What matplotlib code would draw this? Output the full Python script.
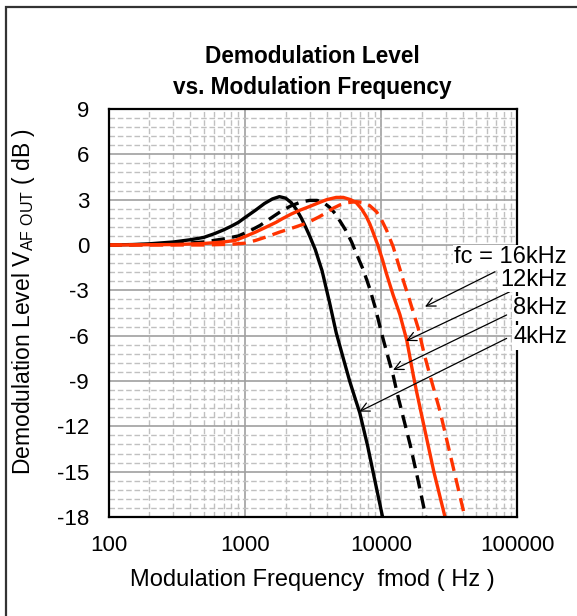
import numpy as np
import matplotlib.pyplot as plt
from matplotlib.patches import Rectangle
from matplotlib.ticker import FixedLocator, NullFormatter

plt.rcParams['font.family'] = ['Liberation Sans', 'DejaVu Sans']
plt.rcParams['axes.unicode_minus'] = False
plt.rcParams['mathtext.fontset'] = 'custom'
plt.rcParams['mathtext.rm'] = 'Liberation Sans'

# curves (Hz, dB)
f_4k = [100, 150, 200, 300, 400, 500, 600, 700, 800, 900, 1000, 1200, 1400, 1600, 1800, 2000, 2200, 2400,
        2600, 2800, 3000, 3300, 3700, 4200, 4700, 5300, 5900, 6500, 7000, 8000, 9000, 10300]
db_4k = [0, 0.03, 0.08, 0.2, 0.35, 0.5, 0.75, 1.0, 1.25, 1.5, 1.8, 2.3, 2.75, 3.05, 3.2, 3.1, 2.8, 2.35,
         1.8, 1.2, 0.6, -0.3, -1.7, -3.8, -5.8, -7.5, -9.0, -10.2, -11.1, -13.3, -15.5, -18]

f_8k = [100, 300, 500, 700, 900, 1100, 1300, 1600, 1900, 2200, 2600, 3000, 3400, 3800, 4200, 4600, 5000,
        5500, 6100, 6700, 7400, 8300, 9200, 10100, 11200, 12300, 13100, 14700, 16400, 18800, 21400]
db_8k = [0, 0.05, 0.2, 0.4, 0.6, 0.95, 1.3, 1.85, 2.3, 2.6, 2.85, 2.95, 2.95, 2.8, 2.5, 2.1, 1.6,
         1.0, 0.2, -0.7, -1.6, -2.9, -4.3, -5.8, -7.3, -8.6, -9.7, -11.5, -13.2, -15.6, -18]

f_12k = [100, 300, 500, 700, 850, 1000, 1200, 1450, 1700, 1900, 2200, 2540, 3000, 3400, 4000, 4700, 5300,
         6000, 6600, 7200, 7800, 8300, 8800, 9500, 10300, 11000, 12300, 13800, 15500, 17300, 18300, 21000,
         24500, 29600]
db_12k = [0, 0.03, 0.1, 0.2, 0.3, 0.55, 0.85, 1.2, 1.5, 1.75, 2.05, 2.3, 2.55, 2.75, 3.0, 3.15, 3.15,
          3.0, 2.8, 2.4, 1.9, 1.4, 0.8, 0.0, -1.0, -1.9, -3.3, -4.6, -6.3, -8.6, -9.7, -12.2,
          -15.0, -18]

f_16k = [100, 500, 800, 1000, 1200, 1460, 1800, 2200, 2860, 3500, 4000, 4500, 5000, 5700, 6600, 7500, 8300,
         9300, 10200, 11000, 11800, 12300, 13500, 14800, 16200, 18800, 20800, 22900, 27200, 32000, 41400]
db_16k = [0, 0.0, 0.05, 0.12, 0.3, 0.55, 0.85, 1.1, 1.45, 1.85, 2.15, 2.45, 2.65, 2.8, 2.87, 2.8, 2.6,
          2.2, 1.6, 1.0, 0.3, -0.1, -1.3, -2.5, -3.6, -5.5, -7.2, -8.6, -11.0, -13.7, -18]

labels = ['fc = 16kHz', '12kHz', '8kHz', '4kHz']
label_y = [-0.8, -2.3, -4.2, -6.1]
arrow_tail = [(68900, -1.77), (88700, -3.09), (83900, -4.63), (83900, -6.18)]
arrow_head = [(21100, -4.08), (15300, -6.35), (12300, -8.27), (6930, -11.03)]

red = '#ff3300'

fig = plt.figure(figsize=(5.77, 6.16), dpi=100)
ax = fig.add_axes([108.5 / 577, 1 - 517 / 616, 408.5 / 577, 408 / 616])

ax.plot(f_4k, db_4k, color='black', lw=2.4, solid_capstyle='butt')
ax.plot(f_8k, db_8k, color='black', lw=2.4, ls=(0, (4, 2.2)))
ax.plot(f_12k, db_12k, color=red, lw=2.4, solid_capstyle='butt')
ax.plot(f_16k, db_16k, color=red, lw=2.4, ls=(0, (4, 2.2)))

ax.set_xscale('log')
ax.set_xlim(100, 100000)
ax.set_ylim(-18, 9)
ax.set_xticks([100, 1000, 10000, 100000])
ax.set_xticklabels(['100', '1000', '10000', '100000'])
minors = [m * 10 ** d for d in range(2, 5) for m in range(2, 10)]
ax.xaxis.set_minor_locator(FixedLocator(minors))
ax.xaxis.set_minor_formatter(NullFormatter())
ax.set_yticks(np.arange(-18, 10, 3))
ax.yaxis.set_minor_locator(FixedLocator(np.arange(-18, 9.01, 0.6)))

ax.grid(which='major', color='#a0a0a0', lw=1.2, ls='-')
ax.grid(which='minor', color='#c0c0c0', lw=1.0, ls=(0, (4, 2)))
ax.set_axisbelow(True)
ax.tick_params(which='both', length=0, labelsize=16)
ax.tick_params(axis='x', pad=13)
ax.tick_params(axis='y', pad=14)
for s in ax.spines.values():
    s.set_linewidth(1.6)

ax.set_title('Demodulation Level\nvs. Modulation Frequency', fontsize=16.3,
             fontweight='bold', pad=11, linespacing=1.45)
ax.set_xlabel('Modulation Frequency  fmod ( Hz )', fontsize=17, labelpad=9)
ax.set_ylabel(r'Demodulation Level V$_{\mathregular{AF\ OUT}}$ ( dB )', fontsize=16.5)
ax.yaxis.set_label_coords(-0.175, 0.529)

for lab, ly, tail, head in zip(labels, label_y, arrow_tail, arrow_head):
    ax.annotate('', xy=head, xytext=tail, annotation_clip=False,
                arrowprops=dict(arrowstyle='->', color='black', lw=0.9,
                                mutation_scale=16, shrinkA=0, shrinkB=0))
    ax.text(232000, ly, lab, fontsize=17, ha='right', va='center', clip_on=False,
            zorder=5, bbox=dict(facecolor='white', edgecolor='none', pad=1))

fig.patches.append(Rectangle((5.5 / 577, -0.1), 1.2, 1.1 - 6.5 / 616, transform=fig.transFigure,
                             fill=False, edgecolor='#333333', lw=1.6))

fig.savefig('out.png', dpi=100)
